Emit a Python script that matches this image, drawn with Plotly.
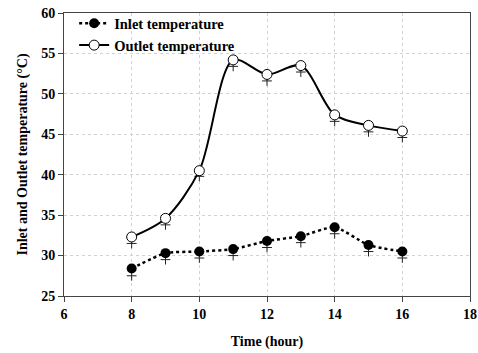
import plotly.graph_objects as go

hours = [8, 9, 10, 11, 12, 13, 14, 15, 16]
inlet = [28.4, 30.3, 30.5, 30.8, 31.8, 32.4, 33.5, 31.3, 30.5]
outlet = [32.3, 34.6, 40.5, 54.2, 52.4, 53.5, 47.4, 46.1, 45.4]
inlet_plus = [27.5, 29.5, 29.7, 30.0, 31.0, 31.6, 32.7, 30.5, 29.7]
outlet_plus = [31.5, 33.8, 39.8, 53.4, 51.6, 52.7, 46.6, 45.3, 44.6]

x_ticks = [6, 8, 10, 12, 14, 16, 18]
y_ticks = [25, 30, 35, 40, 45, 50, 55, 60]

FAM = "Liberation Serif"

fig = go.Figure()
fig.add_trace(go.Scatter(x=hours, y=inlet_plus, mode="markers", showlegend=False,
                         marker=dict(symbol="cross-thin", size=7, line=dict(color="#222", width=1))))
fig.add_trace(go.Scatter(x=hours, y=outlet_plus, mode="markers", showlegend=False,
                         marker=dict(symbol="cross-thin", size=7, line=dict(color="#222", width=1))))
fig.add_trace(go.Scatter(x=hours, y=inlet, mode="lines+markers", name="<b>Inlet temperature</b>",
                         line=dict(color="black", width=2.5, dash="dot", shape="spline", smoothing=0.6),
                         marker=dict(symbol="circle", size=10, color="black")))
fig.add_trace(go.Scatter(x=hours, y=outlet, mode="lines+markers", name="<b>Outlet temperature</b>",
                         line=dict(color="black", width=2, shape="spline", smoothing=0.85),
                         marker=dict(symbol="circle", size=10, color="white", line=dict(color="black", width=1))))

fig.update_layout(
    width=478, height=353,
    margin=dict(l=64, r=8, t=13, b=57, autoexpand=False),
    paper_bgcolor="white", plot_bgcolor="white",
    font=dict(family=FAM, size=14, color="black"),
    legend=dict(x=0.025, y=1.02, xanchor="left", yanchor="top", bgcolor="rgba(0,0,0,0)",
                font=dict(family=FAM, size=14.5, color="black"),
                tracegroupgap=0, itemwidth=30),
)
common = dict(ticks="outside", ticklen=5, tickcolor="#444",
              showline=True, linecolor="#444", linewidth=1, mirror=True,
              showgrid=True, gridcolor="#d2d2d2", griddash="dot", gridwidth=1, zeroline=False,
              tickfont=dict(family=FAM, size=14, color="black"))
fig.update_xaxes(range=[6, 18], tickvals=x_ticks, ticktext=[f"<b>{v}</b>" for v in x_ticks],
                 title=dict(text="<b>Time (hour)</b>", standoff=15, font=dict(family=FAM, size=14, color="black")),
                 **common)
fig.update_yaxes(range=[25, 60], tickvals=y_ticks, ticktext=[f"<b>{v}</b>" for v in y_ticks],
                 title=dict(text="<b>Inlet and Outlet temperature (°C)</b>", standoff=10,
                            font=dict(family=FAM, size=14, color="black")),
                 **common)

fig.write_html("out.html")
